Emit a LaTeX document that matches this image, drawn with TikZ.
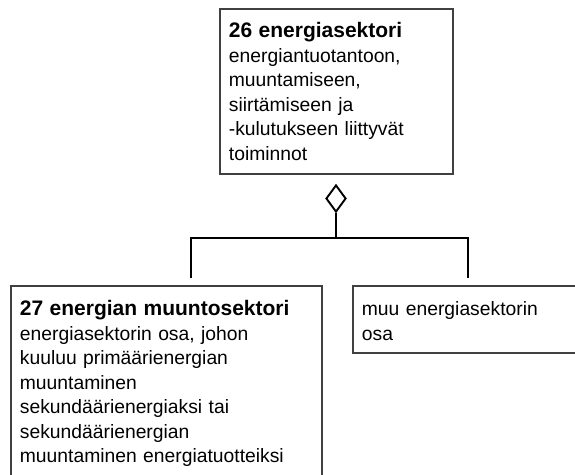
\documentclass[tikz,border=0pt]{standalone}
\usepackage{fontspec}
\setmainfont{Liberation Sans}
\usetikzlibrary{shapes.geometric}
\tikzset{
  conceptbox/.style={draw=black!75, line width=1.8pt, anchor=north west, align=left,
    inner xsep=9pt, inner ysep=8pt, font=\fontsize{19.3}{24.5}\selectfont, fill=white},
  conn/.style={draw=black, line width=1.9pt},
}
\newcommand{\ttl}[1]{{\fontsize{21}{24.5}\selectfont\bfseries #1}}
\begin{document}
\begin{tikzpicture}[x=1pt, y=-1pt]
\useasboundingbox (0,0) rectangle (575,474);
\clip (0,0) rectangle (575,474);
\node[conceptbox, text width=215pt] (top) at (219,8)
  {\rule{0pt}{21pt}\ttl{26 energiasektori}\\
   energiantuotantoon,\\
   muuntamiseen,\\
   siirtämiseen ja\\
   -kulutukseen liittyvät\\
   toiminnot\rule[-5.5pt]{0pt}{5.5pt}};
\node[conceptbox, text width=293pt] (conv) at (10,285)
  {\rule{0pt}{22pt}\ttl{27 energian muuntosektori}\\
   energiasektorin osa, johon\\
   kuuluu primäärienergian\\
   muuntaminen\\
   sekundäärienergiaksi tai\\
   sekundäärienergian\\
   muuntaminen energiatuotteiksi\rule[-30pt]{0pt}{30pt}};
\node[conceptbox, text width=240pt] (other) at (352,285)
  {\rule{0pt}{22pt}muu energiasektorin\\
   osa\rule[-4.5pt]{0pt}{4.5pt}};
\node[diamond, draw=black, line width=1.9pt, minimum width=20pt, minimum height=27pt, inner sep=0pt] (dia) at (336,198.5) {};
\coordinate (bl) at (191,238);
\coordinate (br) at (468,238);
\coordinate (lt) at (191,278);
\coordinate (rt) at (468,278);
\draw[conn] (dia.south) -- (dia.south |- bl);
\draw[conn] (lt) -- (bl) -- (br) -- (rt);
\end{tikzpicture}
\end{document}
